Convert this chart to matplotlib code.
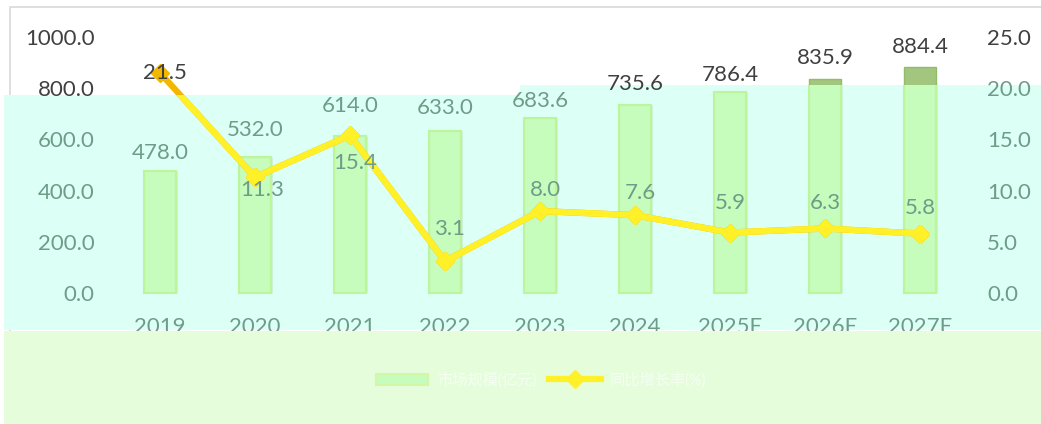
import matplotlib
matplotlib.use('Agg')
from matplotlib import pyplot as plt
from matplotlib.patches import Rectangle
from matplotlib.lines import Line2D

years = ['2019', '2020', '2021', '2022', '2023', '2024', '2025E', '2026E', '2027E']
market_size = [478.0, 532.0, 614.0, 633.0, 683.6, 735.6, 786.4, 835.9, 884.4]
growth = [21.5, 11.3, 15.4, 3.1, 8.0, 7.6, 5.9, 6.3, 5.8]
legend_labels = ['市场规模(亿元)', '同比增长率(%)']

# label offsets in pixels (Excel style placement)
bar_lab_dy = [18, 27, 30, 23, 17, 21, 17, 21, 20]
line_lab_off = [(5, 0), (7, -13), (5, -28), (5, 32), (5, 21), (5, 22), (0, 30), (0, 25), (0, 26)]

W, H = 1041, 424
plt.rcParams['font.family'] = ['Lato', 'Noto Sans CJK SC', 'DejaVu Sans']
dark = '#404040'
tint = '#6e9c89'

fig = plt.figure(figsize=(W / 100, H / 100), dpi=100)
fig.patch.set_facecolor('white')


def px(x, y, w, h):
    return (x / W, 1 - (y + h) / H), w / W, h / H


# frame + washed-out regions of the source picture
xy, w, h = px(10, 7, 1040, 420)
fig.add_artist(Rectangle(xy, w, h, transform=fig.transFigure, fc='none', ec='#d9d9d9', lw=1.2, zorder=-3))
xy, w, h = px(4, 95, 516, 235)
cyan_l = Rectangle(xy, w, h, transform=fig.transFigure, fc='#dcfff6', ec='none', zorder=-2)
xy, w, h = px(520, 85, 521, 245)
cyan_r = Rectangle(xy, w, h, transform=fig.transFigure, fc='#dcfff6', ec='none', zorder=-2)
fig.add_artist(cyan_l)
fig.add_artist(cyan_r)

ax = fig.add_axes([112.5 / W, 131 / H, 855 / W, 256 / H])
ax.set_facecolor('none')
ax2 = ax.twinx()
ax2.set_facecolor('none')

x = list(range(len(years)))
bars = ax.bar(x, market_size, width=0.34, color='#a3c67f', edgecolor='#93bb6a', lw=1)
for cl in (cyan_l, cyan_r):
    tb = ax.bar(x, market_size, width=0.34, color='#c6fcbc', edgecolor='#bdf59a', lw=1.5)
    for b in tb:
        b.set_clip_path(cl)

ax.set_xlim(-0.5, len(years) - 0.5)
ax.set_ylim(0, 1000)
ax.set_yticks([0, 200, 400, 600, 800, 1000])
ax.set_yticklabels(['%.1f' % v for v in ax.get_yticks()])
ax.set_xticks(x)
ax.set_xticklabels(years)
ax2.set_ylim(0, 25)
ax2.set_yticks([0, 5, 10, 15, 20, 25])
ax2.set_yticklabels(['%.1f' % v for v in ax2.get_yticks()])

for a in (ax, ax2):
    for s in a.spines.values():
        s.set_visible(False)
    a.tick_params(length=0, labelsize=16)
ax.tick_params(axis='y', pad=13)
ax.tick_params(axis='x', pad=17)
ax2.tick_params(axis='y', pad=14)

ax2.plot(x, growth, color='#f2b800', lw=4.5, marker='D', ms=9)
for cl in (cyan_l, cyan_r):
    ln, = ax2.plot(x, growth, color='#fff028', lw=4.5, marker='D', ms=9)
    ln.set_clip_path(cl)

texts = []
for i, v in enumerate(market_size):
    t = ax.annotate('%.1f' % v, (i, v), xytext=(0, bar_lab_dy[i]), textcoords='offset pixels',
                    ha='center', va='center', fontsize=16)
    texts.append(t)
for i, v in enumerate(growth):
    t = ax2.annotate('%.1f' % v, (i, v), xytext=line_lab_off[i], textcoords='offset pixels',
                     ha='center', va='center', fontsize=16)
    texts.append(t)

# colour text by whether it sits under the washed region
fig.canvas.draw()
r = fig.canvas.get_renderer()
allt = texts + ax.get_yticklabels() + ax2.get_yticklabels() + ax.get_xticklabels()
for t in allt:
    bb = t.get_window_extent(r)
    cx, cy = (bb.x0 + bb.x1) / 2, (bb.y0 + bb.y1) / 2
    top = H - (95 if cx < 520 else 85)
    t.set_color(dark if cy > top else tint)

# bottom band covering the lower part of the year labels
xy, w, h = px(4, 331, 1037, 93)
fig.add_artist(Rectangle(xy, w, h, transform=fig.transFigure, fc='#e6fddc', ec='none', zorder=5))

handles = [Rectangle((0, 0), 1, 1, fc='#c6fcbc', ec='#d2f7a6', lw=1.5),
           Line2D([], [], color='#fff028', lw=4.5, marker='D', ms=9)]
leg = fig.legend(handles, legend_labels, loc='center', bbox_to_anchor=(541 / W, 1 - 380 / H),
                 ncol=2, frameon=False, fontsize=11, handlelength=3.4, handletextpad=0.6,
                 columnspacing=0.8, labelcolor='#f4fff2')
leg.set_zorder(6)

fig.savefig('out.png', dpi=100)
